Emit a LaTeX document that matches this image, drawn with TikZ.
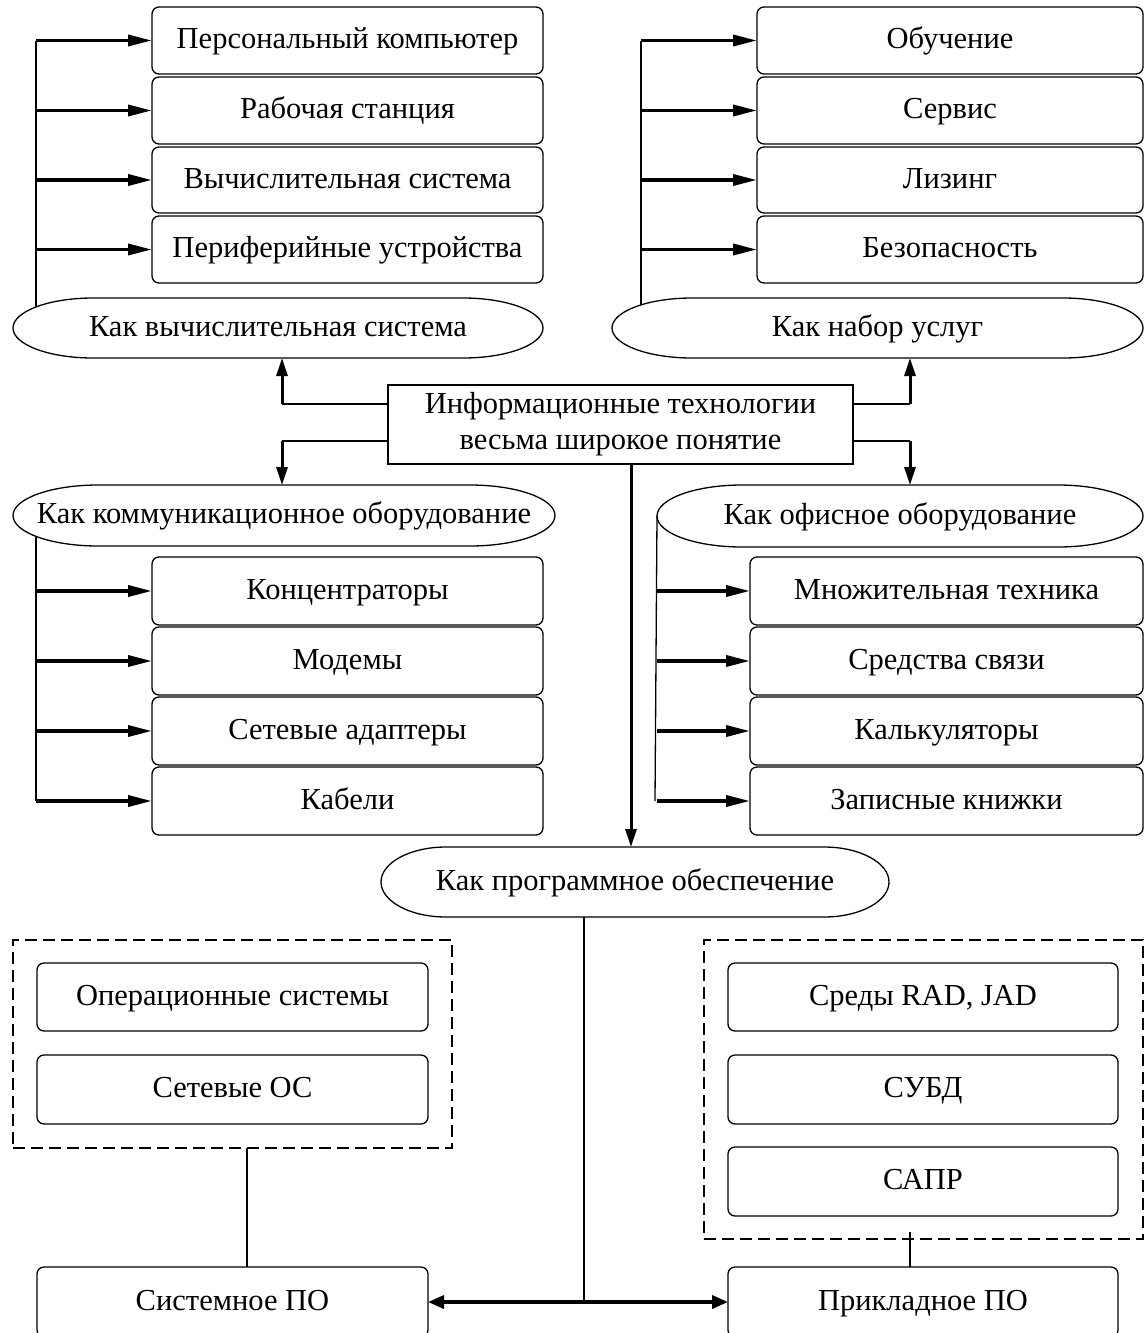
\documentclass[tikz,border=0pt]{standalone}
\usepackage{fontspec}
\setmainfont{Liberation Serif}
\usetikzlibrary{arrows.meta,calc}
\newcommand\fs{\fontsize{30.5}{36}\selectfont}
\newcommand\rbox[6]{\node[rbx, minimum width={(#4-#2)*1pt}, minimum height={(#5-#3)*1pt}] (#1) at ({(#2+#4)/2},{-(#3+#5)/2}) {#6};}
\newcommand\ovnode[7]{%
 \node[ovt, minimum width={(#4-#2)*1pt}, minimum height={(#5-#3)*1pt}] (#1) at ({(#2+#4)/2},{-(#3+#5)/2}) {#7};
 \draw[ovl] ({#2+#6},{-#3}) -- ({#4-#6},{-#3}) arc[start angle=90,end angle=-90,x radius=#6,y radius={(#5-#3)/2}] -- ({#2+#6},{-#5}) arc[start angle=270,end angle=90,x radius=#6,y radius={(#5-#3)/2}] -- cycle;}
\tikzset{
 rbx/.style={draw, rounded corners=7pt, line width=1.3pt, inner sep=0pt, outer sep=0pt, font=\fs, text height=21pt, text depth=5pt},
 ovt/.style={inner sep=0pt, outer sep=0pt, font=\fs, text height=21pt, text depth=5pt},
 ovl/.style={line width=1.3pt},
 thinl/.style={line width=1.3pt},
 arr/.style={line width=3.5pt, -{Triangle[length=24pt,width=11pt]}},
 varr/.style={line width=3pt, -{Triangle[length=18pt,width=11pt]}},
 darr/.style={line width=3.5pt, {Triangle[length=16pt,width=13pt]}-{Triangle[length=16pt,width=13pt]}},
 dbox/.style={draw, dash pattern=on 12pt off 6pt, line width=2.5pt, inner sep=0pt, outer sep=0pt}
}
\begin{document}
\begin{tikzpicture}[x=1pt,y=1pt]
\useasboundingbox (0,0) rectangle (1145,-1333);
% top left group
\rbox{a1}{152}{7}{543}{74}{Персональный компьютер}
\rbox{a2}{152}{77}{543}{144}{Рабочая станция}
\rbox{a3}{152}{147}{543}{213}{Вычислительная система}
\rbox{a4}{152}{216}{543}{283}{Периферийные устройства}
\ovnode{L1}{13}{298}{543}{358}{80}{Как вычислительная система}
\coordinate (vl1) at (36,-307);
\draw[thinl] (vl1) -- (vl1 |- a1.west);
\foreach \n in {a1,a2,a3,a4} \draw[arr] (\n.west -| vl1) -- (\n.west);
% top right group
\rbox{b1}{757}{7}{1143}{74}{Обучение}
\rbox{b2}{757}{77}{1143}{144}{Сервис}
\rbox{b3}{757}{147}{1143}{213}{Лизинг}
\rbox{b4}{757}{216}{1143}{283}{Безопасность}
\ovnode{R1}{612}{298}{1143}{358}{80}{Как набор услуг}
\coordinate (vr1) at (641,-305);
\draw[thinl] (vr1) -- (vr1 |- b1.west);
\foreach \n in {b1,b2,b3,b4} \draw[arr] (\n.west -| vr1) -- (\n.west);
% centre
\node[draw, line width=1.3pt, inner sep=0pt, outer sep=0pt, minimum width=465pt, minimum height=79pt, align=center, font=\fs] (C) at (620.5,-424.5) {Информационные технологии\\весьма широкое понятие};
\ovnode{L2}{13}{485}{555}{546}{85}{Как коммуникационное оборудование}
\ovnode{R2}{657}{485}{1143}{547}{85}{Как офисное оборудование}
\coordinate (cl1) at (282,-404);
\coordinate (cl2) at (282,-441);
\coordinate (cr1) at (910,-404);
\coordinate (cr2) at (910,-441);
\draw[thinl] (C.west |- cl1) -- (cl1);
\draw[varr] (cl1) -- (cl1 |- L1.south);
\draw[thinl] (C.west |- cl2) -- (cl2);
\draw[varr] (cl2) -- (cl2 |- L2.north);
\draw[thinl] (C.east |- cr1) -- (cr1);
\draw[varr] (cr1) -- (cr1 |- R1.south);
\draw[thinl] (C.east |- cr2) -- (cr2);
\draw[varr] (cr2) -- (cr2 |- R2.north);
% middle left group
\rbox{c1}{152}{557}{543}{625}{Концентраторы}
\rbox{c2}{152}{627}{543}{695}{Модемы}
\rbox{c3}{152}{697}{543}{765}{Сетевые адаптеры}
\rbox{c4}{152}{767}{543}{835}{Кабели}
\coordinate (vl2) at (36,-536);
\draw[thinl] (vl2) -- (vl2 |- c4.west);
\foreach \n in {c1,c2,c3,c4} \draw[arr] (\n.west -| vl2) -- (\n.west);
% middle right group
\rbox{d1}{750}{557}{1143}{625}{Множительная техника}
\rbox{d2}{750}{627}{1143}{695}{Средства связи}
\rbox{d3}{750}{697}{1143}{765}{Калькуляторы}
\rbox{d4}{750}{767}{1143}{835}{Записные книжки}
\coordinate (vr2) at (655,-801);
\draw[thinl] (R2.west) -- (vr2);
\foreach \n in {d1,d2,d3,d4} \draw[arr] ($(\n.west)+(-93,0)$) -- (\n.west);
% software
\ovnode{P}{381}{847}{889}{917}{65}{Как программное обеспечение}
\coordinate (cv) at (631,-464);
\draw[varr] (cv) -- (cv |- P.north);
\node[dbox, minimum width=439pt, minimum height=208pt] (DL) at (232.5,-1044) {};
\rbox{e1}{37}{963}{428}{1031}{Операционные системы}
\rbox{e2}{37}{1055}{428}{1124}{Сетевые ОС}
\node[dbox, minimum width=439pt, minimum height=299pt] (DR) at (923.5,-1089.5) {};
\rbox{f1}{728}{963}{1118}{1031}{Среды RAD, JAD}
\rbox{f2}{728}{1055}{1118}{1124}{СУБД}
\rbox{f3}{728}{1147}{1118}{1216}{САПР}
\rbox{S}{37}{1267}{428}{1337}{Системное ПО}
\rbox{A}{728}{1267}{1118}{1337}{Прикладное ПО}
\coordinate (dl) at (247,-1148);
\draw[thinl] (dl) -- (dl |- S.north);
\coordinate (dr) at (910,-1232);
\draw[thinl] (dr) -- (dr |- A.north);
\coordinate (pb) at (584,-917);
\draw[thinl] (pb) -- (pb |- S.east);
\draw[darr] (S.east) -- (A.west);
\end{tikzpicture}
\end{document}
